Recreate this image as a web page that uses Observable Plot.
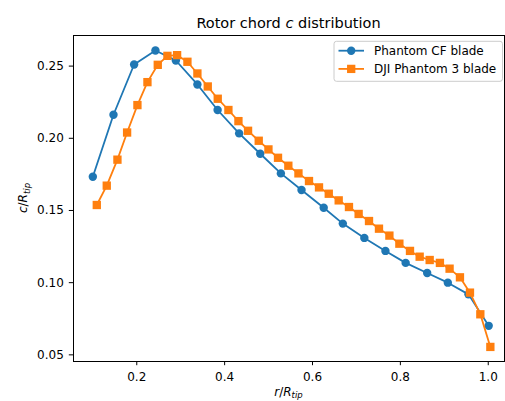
<!DOCTYPE html>
<html>
<head>
<meta charset="utf-8">
<script src="https://cdn.jsdelivr.net/npm/d3@7"></script>
<script src="https://cdn.jsdelivr.net/npm/@observablehq/plot@0.6"></script>
<style>
  html, body { margin: 0; padding: 0; background: #fff; }
  #chart svg { display: block; }
</style>
</head>
<body>
<div id="chart"></div>
<script>
// Phantom CF blade
const cfR = [0.100, 0.147, 0.194, 0.2425, 0.289, 0.338, 0.384, 0.433, 0.481, 0.528, 0.575, 0.6255, 0.669, 0.718, 0.766, 0.812, 0.861, 0.908, 0.955, 1.001];
const cfC = [0.1734, 0.2163, 0.2511, 0.2608, 0.2539, 0.2373, 0.2196, 0.2034, 0.1893, 0.1757, 0.1642, 0.1519, 0.1409, 0.1310, 0.1220, 0.1137, 0.1067, 0.1000, 0.0919, 0.0701];
// DJI Phantom 3 blade
const djiR = [0.109, 0.1317, 0.156, 0.178, 0.2015, 0.2243, 0.2478, 0.2698, 0.2918, 0.3153, 0.338, 0.3616, 0.3843, 0.4086, 0.4314, 0.4533, 0.4776, 0.4997, 0.5215, 0.545, 0.568, 0.592, 0.6148, 0.637, 0.6596, 0.683, 0.705, 0.7286, 0.7513, 0.775, 0.7977, 0.8219, 0.8439, 0.8667, 0.890, 0.912, 0.9356, 0.9584, 0.982, 1.0048];
const djiC = [0.1538, 0.1672, 0.1852, 0.2040, 0.2230, 0.2389, 0.2509, 0.2571, 0.2576, 0.2530, 0.2449, 0.2359, 0.2274, 0.2196, 0.2119, 0.2052, 0.1983, 0.1923, 0.1865, 0.1810, 0.1757, 0.1704, 0.1660, 0.1616, 0.1570, 0.1524, 0.1476, 0.1427, 0.1374, 0.1326, 0.1270, 0.1220, 0.1180, 0.1157, 0.1137, 0.1097, 0.1037, 0.0931, 0.0781, 0.0555];

const seriesNames = ["Phantom CF blade", "DJI Phantom 3 blade"];
const seriesColors = ["#1f77b4", "#ff7f0e"];
const xTicks = [0.2, 0.4, 0.6, 0.8, 1.0];
const yTicks = [0.05, 0.10, 0.15, 0.20, 0.25];

const cf = cfR.map((r, i) => ({r, c: cfC[i]}));
const dji = djiR.map((r, i) => ({r, c: djiC[i]}));

const FONT = "DejaVu Sans";
const W = 505, H = 401;
const mL = 73, mR = 1, mT = 35, mB = 40;

const plot = Plot.plot({
  width: W,
  height: H,
  marginLeft: mL,
  marginRight: mR,
  marginTop: mT,
  marginBottom: mB,
  style: {fontFamily: FONT, fontSize: "12px", color: "#000", background: "#fff", overflow: "visible"},
  x: {domain: [0.056, 1.037]},
  y: {domain: [0.0454, 0.2712]},
  marks: [
    Plot.axisX(xTicks, {tickSize: 4.2, tickPadding: 6.5, tickFormat: d3.format(".1f"), label: null, fontSize: 12, stroke: "#000", strokeWidth: 1}),
    Plot.axisY(yTicks, {tickSize: 4.2, tickPadding: 5.5, tickFormat: d3.format(".2f"), label: null, fontSize: 12, stroke: "#000", strokeWidth: 1}),
    Plot.line(cf, {x: "r", y: "c", stroke: seriesColors[0], strokeWidth: 1.8}),
    Plot.dot(cf, {x: "r", y: "c", r: 4.2, fill: seriesColors[0], stroke: null, symbol: "circle"}),
    Plot.line(dji, {x: "r", y: "c", stroke: seriesColors[1], strokeWidth: 1.8}),
    Plot.dot(dji, {x: "r", y: "c", r: 4.7, fill: seriesColors[1], stroke: null, symbol: "square"}),
    Plot.frame({stroke: "#000", strokeWidth: 1})
  ]
});

document.getElementById("chart").appendChild(plot);

const svg = d3.select(plot);
const cx = (mL + (W - mR)) / 2;

// Title
const title = svg.append("text")
  .attr("x", cx).attr("y", 27.5)
  .attr("text-anchor", "middle")
  .attr("font-family", FONT).attr("font-size", 14.5).attr("fill", "#000");
title.append("tspan").text("Rotor chord ");
title.append("tspan").attr("font-style", "italic").text("c");
title.append("tspan").text(" distribution");

// X label r/R_tip
const xl = svg.append("text")
  .attr("x", cx).attr("y", 395.5)
  .attr("text-anchor", "middle")
  .attr("font-family", FONT).attr("font-size", 12).attr("fill", "#000");
xl.append("tspan").attr("font-style", "italic").text("r");
xl.append("tspan").text("/");
xl.append("tspan").attr("font-style", "italic").text("R");
xl.append("tspan").attr("font-style", "italic").attr("font-size", 8.5).attr("dy", 2.5).text("tip");

// Y label c/R_tip
const yl = svg.append("text")
  .attr("transform", `translate(27,${(mT + (H - mB)) / 2}) rotate(-90)`)
  .attr("text-anchor", "middle")
  .attr("font-family", FONT).attr("font-size", 12).attr("fill", "#000");
yl.append("tspan").attr("font-style", "italic").text("c");
yl.append("tspan").text("/");
yl.append("tspan").attr("font-style", "italic").text("R");
yl.append("tspan").attr("font-style", "italic").attr("font-size", 8.5).attr("dy", 2.5).text("tip");

// Legend
const lg = svg.append("g").attr("font-family", FONT).attr("font-size", 12).attr("text-anchor", "start");
lg.append("rect")
  .attr("x", 334).attr("y", 41.3).attr("width", 168.5).attr("height", 40)
  .attr("rx", 2.5).attr("fill", "#fff").attr("fill-opacity", 0.8)
  .attr("stroke", "#cccccc").attr("stroke-width", 1);
const rows = [50.7, 68.9];
seriesNames.forEach((name, i) => {
  const y = rows[i];
  lg.append("line").attr("x1", 338.5).attr("x2", 364).attr("y1", y).attr("y2", y)
    .attr("stroke", seriesColors[i]).attr("stroke-width", 1.8);
  if (i === 0) {
    lg.append("circle").attr("cx", 351.2).attr("cy", y).attr("r", 4.2).attr("fill", seriesColors[i]);
  } else {
    lg.append("rect").attr("x", 351.2 - 4.15).attr("y", y - 4.15).attr("width", 8.3).attr("height", 8.3).attr("fill", seriesColors[i]);
  }
  lg.append("text").attr("x", 374).attr("y", y).attr("dy", "0.36em").attr("text-anchor", "start").attr("fill", "#000").text(name);
});
</script>
</body>
</html>
